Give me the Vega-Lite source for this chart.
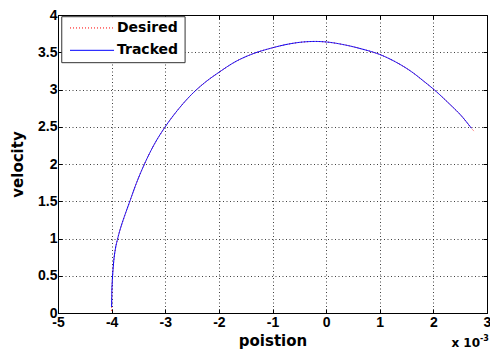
{
  "$schema": "https://vega.github.io/schema/vega-lite/v6.json",
  "width": 429,
  "height": 298,
  "autosize": {"type": "none"},
  "padding": {"left": 58, "top": 15, "right": 3, "bottom": 45},
  "background": "white",
  "config": {
    "view": {"stroke": "black", "strokeWidth": 1},
    "font": "DejaVu Sans",
    "axis": {
      "labelFont": "Liberation Sans", "labelFontWeight": "bold", "labelFontSize": 14, "labelColor": "black",
      "titleFont": "DejaVu Sans", "titleFontWeight": "bold", "titleFontSize": 15, "titleColor": "black",
      "domainColor": "black", "tickColor": "black", "tickSize": -4, "labelOverlap": false, "labelFlush": false,
      "gridColor": "black", "gridOpacity": 0.75, "gridDash": [1, 2.5], "gridWidth": 1
    }
  },
  "resolve": {"axis": {"x": "independent", "y": "independent"}},
  "layer": [
    {
      "data": {"values": [
        {"series": "Desired", "x": -4.0, "v": 0.03},
        {"series": "Desired", "x": -3.997, "v": 0.25},
        {"series": "Desired", "x": -3.99, "v": 0.4},
        {"series": "Desired", "x": -3.98, "v": 0.52},
        {"series": "Desired", "x": -3.96, "v": 0.7},
        {"series": "Desired", "x": -3.93, "v": 0.86},
        {"series": "Desired", "x": -3.89, "v": 0.99},
        {"series": "Desired", "x": -3.85, "v": 1.1},
        {"series": "Desired", "x": -3.8, "v": 1.215},
        {"series": "Desired", "x": -3.75, "v": 1.32},
        {"series": "Desired", "x": -3.66, "v": 1.5},
        {"series": "Desired", "x": -3.55, "v": 1.72},
        {"series": "Desired", "x": -3.4, "v": 1.98},
        {"series": "Desired", "x": -3.2, "v": 2.27},
        {"series": "Desired", "x": -3.0, "v": 2.5},
        {"series": "Desired", "x": -2.75, "v": 2.74},
        {"series": "Desired", "x": -2.5, "v": 2.94},
        {"series": "Desired", "x": -2.25, "v": 3.1},
        {"series": "Desired", "x": -2.0, "v": 3.23},
        {"series": "Desired", "x": -1.7, "v": 3.37},
        {"series": "Desired", "x": -1.4, "v": 3.47},
        {"series": "Desired", "x": -1.0, "v": 3.56},
        {"series": "Desired", "x": -0.7, "v": 3.61},
        {"series": "Desired", "x": -0.44, "v": 3.637},
        {"series": "Desired", "x": -0.2, "v": 3.645},
        {"series": "Desired", "x": 0.0, "v": 3.638},
        {"series": "Desired", "x": 0.34, "v": 3.6},
        {"series": "Desired", "x": 0.66, "v": 3.545},
        {"series": "Desired", "x": 1.0, "v": 3.47},
        {"series": "Desired", "x": 1.28, "v": 3.376},
        {"series": "Desired", "x": 1.59, "v": 3.24},
        {"series": "Desired", "x": 1.84, "v": 3.1},
        {"series": "Desired", "x": 2.01, "v": 3.0},
        {"series": "Desired", "x": 2.28, "v": 2.82},
        {"series": "Desired", "x": 2.53, "v": 2.64},
        {"series": "Desired", "x": 2.71, "v": 2.48},
        {"series": "Desired", "x": 2.77, "v": 2.43},
        {"series": "Tracked", "x": -4.0, "v": 0.08},
        {"series": "Tracked", "x": -3.997, "v": 0.25},
        {"series": "Tracked", "x": -3.99, "v": 0.4},
        {"series": "Tracked", "x": -3.98, "v": 0.52},
        {"series": "Tracked", "x": -3.96, "v": 0.7},
        {"series": "Tracked", "x": -3.93, "v": 0.86},
        {"series": "Tracked", "x": -3.89, "v": 0.99},
        {"series": "Tracked", "x": -3.85, "v": 1.1},
        {"series": "Tracked", "x": -3.8, "v": 1.215},
        {"series": "Tracked", "x": -3.75, "v": 1.32},
        {"series": "Tracked", "x": -3.66, "v": 1.5},
        {"series": "Tracked", "x": -3.55, "v": 1.72},
        {"series": "Tracked", "x": -3.4, "v": 1.98},
        {"series": "Tracked", "x": -3.2, "v": 2.27},
        {"series": "Tracked", "x": -3.0, "v": 2.5},
        {"series": "Tracked", "x": -2.75, "v": 2.74},
        {"series": "Tracked", "x": -2.5, "v": 2.94},
        {"series": "Tracked", "x": -2.25, "v": 3.1},
        {"series": "Tracked", "x": -2.0, "v": 3.23},
        {"series": "Tracked", "x": -1.7, "v": 3.37},
        {"series": "Tracked", "x": -1.4, "v": 3.47},
        {"series": "Tracked", "x": -1.0, "v": 3.56},
        {"series": "Tracked", "x": -0.7, "v": 3.61},
        {"series": "Tracked", "x": -0.44, "v": 3.637},
        {"series": "Tracked", "x": -0.2, "v": 3.645},
        {"series": "Tracked", "x": 0.0, "v": 3.638},
        {"series": "Tracked", "x": 0.34, "v": 3.6},
        {"series": "Tracked", "x": 0.66, "v": 3.545},
        {"series": "Tracked", "x": 1.0, "v": 3.47},
        {"series": "Tracked", "x": 1.28, "v": 3.376},
        {"series": "Tracked", "x": 1.59, "v": 3.24},
        {"series": "Tracked", "x": 1.84, "v": 3.1},
        {"series": "Tracked", "x": 2.01, "v": 3.0},
        {"series": "Tracked", "x": 2.28, "v": 2.82},
        {"series": "Tracked", "x": 2.53, "v": 2.64},
        {"series": "Tracked", "x": 2.71, "v": 2.48}
      ]},
      "mark": {"type": "line", "strokeWidth": 1, "interpolate": "monotone"},
      "encoding": {
        "x": {"field": "x", "type": "quantitative",
          "scale": {"domain": [-5, 3], "nice": false, "zero": false},
          "axis": {"values": [-5, -4, -3, -2, -1, 0, 1, 2, 3], "tickCount": 12,
            "labelExpr": "datum.value < 0 ? '-' + abs(datum.value) : '' + datum.value",
            "title": "poistion", "labelPadding": 6, "titlePadding": 4, "grid": true}},
        "y": {"field": "v", "type": "quantitative",
          "scale": {"domain": [0, 4], "nice": false},
          "axis": {"values": [0, 0.5, 1, 1.5, 2, 2.5, 3, 3.5, 4], "tickCount": 12, "format": ".1~f", "title": "velocity", "labelPadding": 5, "titlePadding": 12, "grid": true}},
        "color": {"field": "series", "type": "nominal",
          "scale": {"domain": ["Desired", "Tracked"], "range": ["#ff0000", "#0000ff"]},
          "legend": null},
        "strokeDash": {"field": "series", "type": "nominal",
          "scale": {"domain": ["Desired", "Tracked"], "range": [[1, 2], [1, 0]]},
          "legend": null}
      }
    },
    {
      "data": {"values": [{"box": "legend"}]},
      "mark": {"type": "rect", "fill": "white", "stroke": "#333333", "strokeWidth": 1},
      "encoding": {
        "x": {"datum": -4.93, "type": "quantitative",
          "axis": {"orient": "top", "values": [-5, -4, -3, -2, -1, 0, 1, 2, 3], "tickCount": 12, "labels": false, "domain": false, "grid": false, "title": null}},
        "x2": {"datum": -2.63},
        "y": {"datum": 3.977, "type": "quantitative",
          "axis": {"orient": "right", "values": [0, 0.5, 1, 1.5, 2, 2.5, 3, 3.5, 4], "tickCount": 12, "labels": false, "domain": false, "grid": false, "title": null}},
        "y2": {"datum": 3.36}
      }
    },
    {
      "data": {"values": [{"series": "Desired"}]},
      "mark": {"type": "rule", "color": "#ff0000", "strokeWidth": 1, "strokeDash": [1, 2]},
      "encoding": {
        "x": {"datum": -4.776, "type": "quantitative", "axis": null},
        "x2": {"datum": -3.955},
        "y": {"datum": 3.826, "type": "quantitative", "axis": null}
      }
    },
    {
      "data": {"values": [{"series": "Tracked"}]},
      "mark": {"type": "rule", "color": "#0000ff", "strokeWidth": 1},
      "encoding": {
        "x": {"datum": -4.776, "type": "quantitative", "axis": null},
        "x2": {"datum": -3.955},
        "y": {"datum": 3.526, "type": "quantitative", "axis": null}
      }
    },
    {
      "data": {"values": [{"series": "Desired"}]},
      "mark": {"type": "text", "align": "left", "baseline": "middle", "fontSize": 14, "fontWeight": "bold", "font": "DejaVu Sans", "color": "black"},
      "encoding": {
        "x": {"datum": -3.9, "type": "quantitative", "axis": null},
        "y": {"datum": 3.826, "type": "quantitative", "axis": null},
        "text": {"field": "series"}
      }
    },
    {
      "data": {"values": [{"series": "Tracked"}]},
      "mark": {"type": "text", "align": "left", "baseline": "middle", "fontSize": 14, "fontWeight": "bold", "font": "DejaVu Sans", "color": "black"},
      "encoding": {
        "x": {"datum": -3.9, "type": "quantitative", "axis": null},
        "y": {"datum": 3.526, "type": "quantitative", "axis": null},
        "text": {"field": "series"}
      }
    },
    {
      "data": {"values": [{"t": "x 10"}]},
      "mark": {"type": "text", "align": "right", "baseline": "alphabetic", "dx": -7, "dy": 34, "fontSize": 12, "fontWeight": "bold", "font": "DejaVu Sans", "color": "black"},
      "encoding": {"x": {"datum": 3, "type": "quantitative", "axis": null}, "y": {"datum": 0, "type": "quantitative", "axis": null}, "text": {"field": "t"}}
    },
    {
      "data": {"values": [{"t": "-3"}]},
      "mark": {"type": "text", "align": "left", "baseline": "alphabetic", "dx": -7, "dy": 28, "fontSize": 8, "fontWeight": "bold", "font": "DejaVu Sans", "color": "black"},
      "encoding": {"x": {"datum": 3, "type": "quantitative", "axis": null}, "y": {"datum": 0, "type": "quantitative", "axis": null}, "text": {"field": "t"}}
    }
  ]
}
